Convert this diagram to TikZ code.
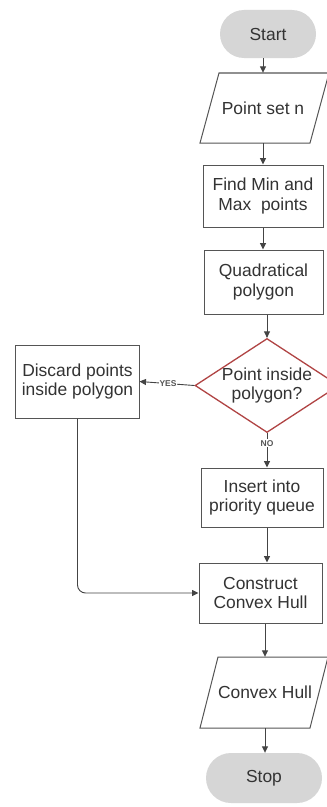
\documentclass[tikz,border=0pt]{standalone}
\usepackage{fontspec}
\setmainfont{Liberation Sans}
\usetikzlibrary{shapes.geometric,arrows.meta}
\definecolor{txt}{HTML}{333333}
\definecolor{edge}{HTML}{555555}
\definecolor{pillgray}{HTML}{D6D6D6}
\definecolor{dred}{HTML}{B04444}
\tikzset{
  box/.style={draw=edge, line width=1bp, fill=white, text=txt, align=center, inner sep=0pt,
              font=\fontsize{17.5}{19.5}\selectfont},
  pillbox/.style={fill=pillgray, text=txt, align=center, inner sep=0pt,
              font=\fontsize{17.5}{19.5}\selectfont},
  lbl/.style={text=txt, align=center, inner sep=0pt, font=\fontsize{17.5}{19.5}\selectfont},
  arr/.style={draw=edge!80!black, line width=0.9bp, -{Triangle[length=6.5bp,width=6bp]}},
  tag/.style={font=\bfseries\fontsize{8.5}{9}\selectfont, text=edge, fill=white, inner sep=1bp}
}
\begin{document}
\begin{tikzpicture}[x=1bp,y=-1bp]
\useasboundingbox (0,0) rectangle (326,807);
\fill[white] (0,0) rectangle (326,807);

% Start
\node[pillbox, minimum width=96bp, minimum height=48bp, rounded corners=24bp] (start) at (268,34) {Start};

% Point set n (parallelogram)
\draw[edge, line width=1bp, fill=white] (200,143) -- (219,73) -- (329,73) -- (310,143) -- cycle;
\node[lbl, minimum width=100bp, minimum height=70bp] (ps) at (263,108) {Point set n};

% Find min/max
\node[box, minimum width=120bp, minimum height=62bp] (fmm) at (263,196) {Find Min and\\Max\ \ points};

% Quadratical polygon
\node[box, minimum width=119bp, minimum height=64bp] (quad) at (263.5,282) {Quadratical\\polygon};

% Decision
\node[diamond, draw=dred, line width=1.3bp, fill=white, minimum width=144bp, minimum height=94bp, inner sep=0pt] (dec) at (267,385.5) {};
\node[lbl] (dect) at (dec.center) {Point inside\\polygon?};

% Discard
\node[box, minimum width=123bp, minimum height=73bp] (disc) at (77.5,381.5) {Discard points\\inside polygon};

% Insert
\node[box, minimum width=122bp, minimum height=59bp] (ins) at (262,497.5) {Insert into\\priority queue};

% Construct
\node[box, minimum width=123bp, minimum height=60bp] (con) at (260.5,593) {Construct\\Convex Hull};

% Convex Hull (parallelogram)
\draw[edge, line width=1bp, fill=white] (200,728) -- (218,657) -- (328,657) -- (310,728) -- cycle;
\node[lbl, minimum width=100bp, minimum height=71bp] (chl) at (265,692.5) {Convex Hull};

% Stop
\node[pillbox, minimum width=116bp, minimum height=50bp, rounded corners=25bp] (stop) at (264,778) {Stop};

% Connectors
\draw[arr] (ps.north |- start.south) -- (ps.north);
\draw[arr] (ps.south) -- (ps.south |- fmm.north);
\draw[arr] (fmm.south) -- (fmm.south |- quad.north);
\draw[arr] (quad.south -| dec.north) -- (dec.north);
\draw[arr] (dec.west) -- (disc.east) node[tag, pos=0.48] {YES};
\draw[arr] (dec.south) -- (dec.south |- ins.north) node[tag, pos=0.3] {NO};
\draw[arr] (ins.south -| dec.south) -- (dec.south |- con.north);
\draw[arr, rounded corners=8bp] (disc.south) |- (con.west);
\draw[arr] (con.south -| chl.north) -- (chl.north);
\draw[arr] (chl.south) -- (chl.south |- stop.north);
\end{tikzpicture}
\end{document}
